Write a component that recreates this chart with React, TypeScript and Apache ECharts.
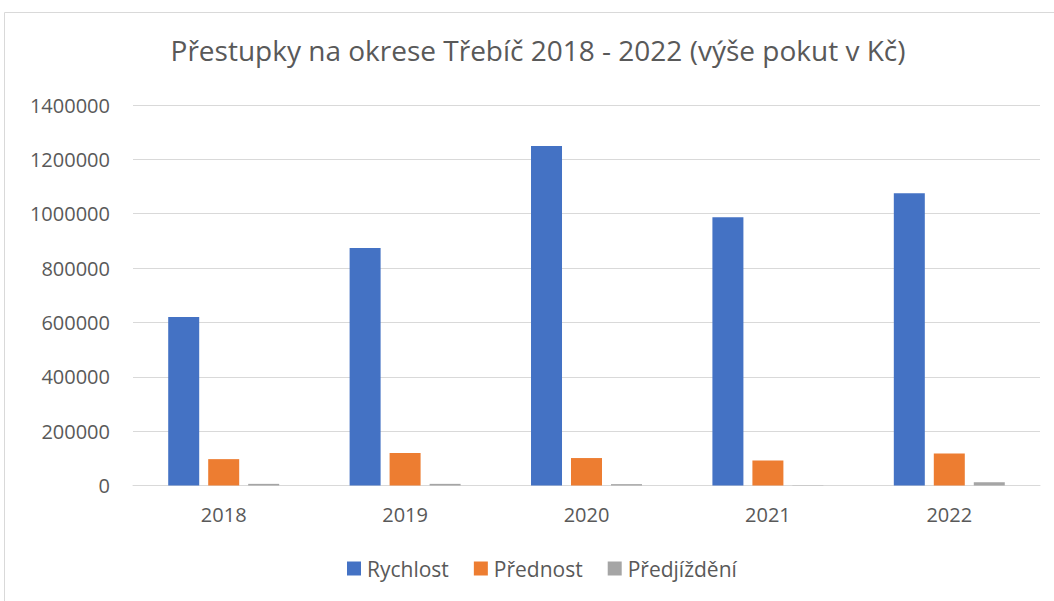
import React, { useEffect, useRef } from "react";
import * as echarts from "echarts";

const years = ["2018", "2019", "2020", "2021", "2022"];
const rychlost = [620000, 874000, 1249000, 987000, 1075000];
const prednost = [97000, 119500, 101000, 92000, 118000];
const predjizdeni = [6000, 6000, 5000, 1000, 12000];
const seriesNames = ["Rychlost", "Přednost", "Předjíždění"];
const colors = ["#4472C4", "#ED7D31", "#A5A5A5"];

export default function App() {
  const ref = useRef<HTMLDivElement>(null);
  useEffect(() => {
    if (!ref.current) return;
    const chart = echarts.init(ref.current, undefined, { renderer: "svg" });
    const font = "Open Sans";
    const dataSets = [rychlost, prednost, predjizdeni];
    chart.setOption({
      animation: false,
      backgroundColor: "#ffffff",
      title: {
        text: "Přestupky na okrese Třebíč 2018 - 2022 (výše pokut v Kč)",
        left: 533,
        textAlign: "center",
        top: 31,
        textStyle: { fontFamily: font, fontSize: 28, fontWeight: "normal", color: "#595959" },
      },
      graphic: [
        {
          type: "rect",
          shape: { x: 4.5, y: 12.5, width: 1070, height: 620 },
          style: { fill: "none", stroke: "#d9d9d9", lineWidth: 1 },
          silent: true,
        },
      ],
      legend: {
        data: seriesNames,
        top: 553,
        left: 342,
        itemWidth: 14,
        itemHeight: 14,
        itemGap: 25,
        icon: "rect",
        textStyle: { fontFamily: font, fontSize: 21, color: "#595959", padding: [0, 0, 0, 1] },
      },
      grid: { left: 133, right: 14, top: 105, bottom: 115.5, containLabel: false },
      xAxis: {
        type: "category",
        data: years,
        axisLine: { lineStyle: { color: "#d9d9d9", width: 1 } },
        axisTick: { show: false },
        axisLabel: { fontFamily: font, fontSize: 20, color: "#595959", margin: 19 },
      },
      yAxis: {
        type: "value",
        min: 0,
        max: 1400000,
        interval: 200000,
        axisLine: { show: false },
        axisTick: { show: false },
        splitLine: { lineStyle: { color: "#d9d9d9", width: 1 } },
        axisLabel: {
          fontFamily: font,
          fontSize: 20,
          color: "#595959",
          margin: 23,
          formatter: (v: number) => String(v),
        },
      },
      series: seriesNames.map((name, i) => ({
        name,
        type: "bar",
        data: dataSets[i],
        barWidth: 31,
        barGap: "29%",
        itemStyle: { color: colors[i] },
      })),
    });
    return () => chart.dispose();
  }, []);
  return (
    <div
      ref={ref}
      style={{ position: "fixed", left: 0, top: 0, width: 1054, height: 601 }}
    />
  );
}
